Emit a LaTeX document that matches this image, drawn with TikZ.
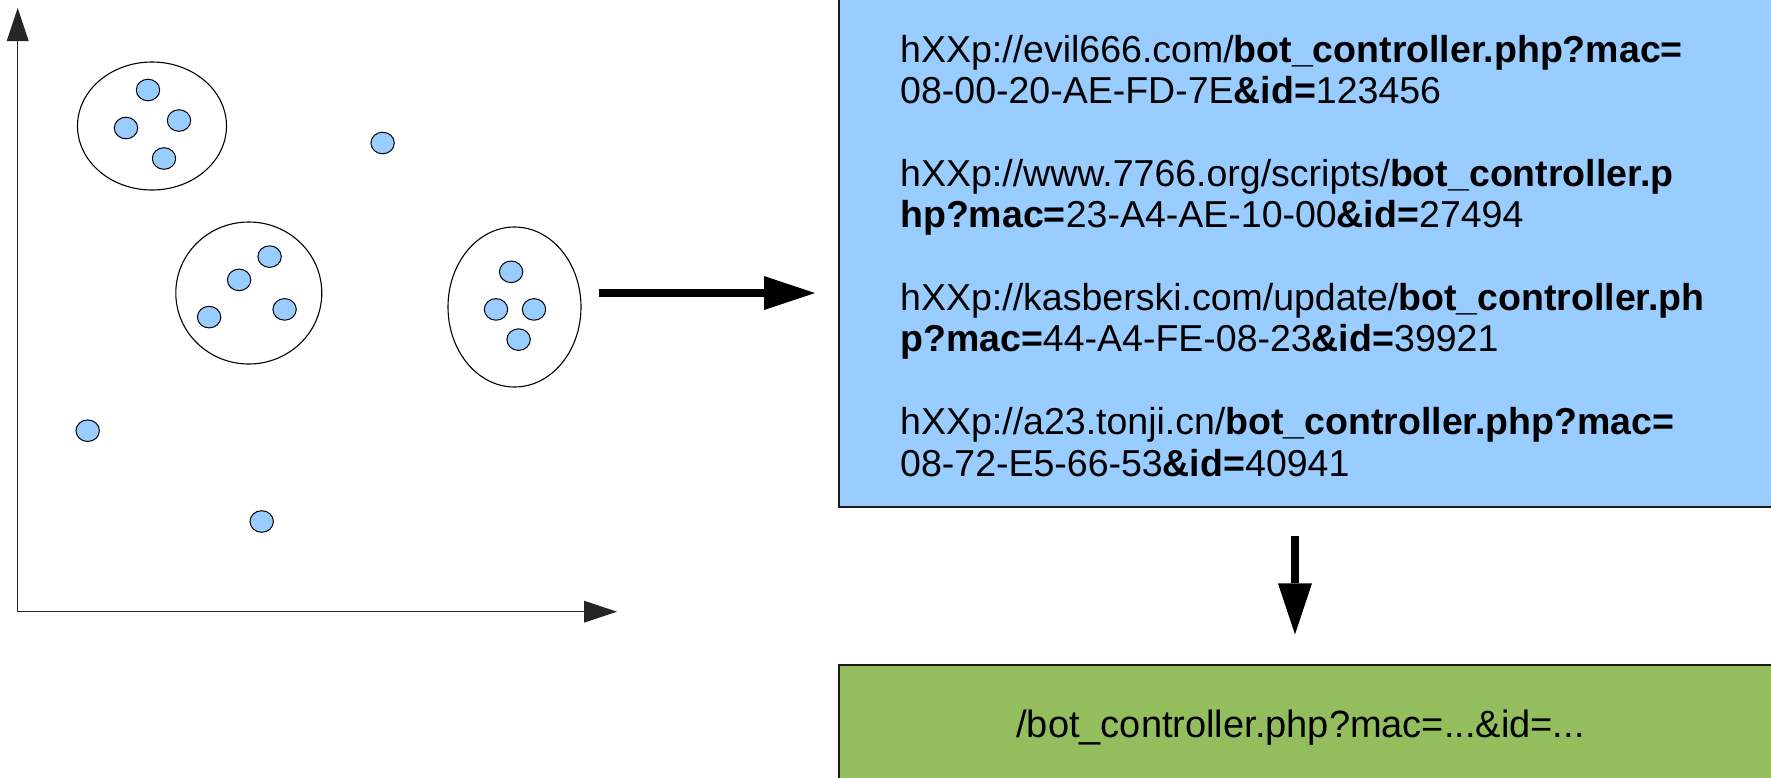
\documentclass[tikz,border=0pt]{standalone}
\usepackage{fontspec}
\setmainfont{Liberation Sans}
\usetikzlibrary{shapes.geometric,arrows.meta}
\definecolor{dotblue}{HTML}{99CCFF}
\definecolor{panelgreen}{HTML}{94BD5E}
\definecolor{edge}{HTML}{1A1A1A}
\begin{document}
\begin{tikzpicture}[x=1pt,y=-1pt,
  blob/.style={ellipse,draw=black,line width=1pt,fill=dotblue,
    minimum width=23.4pt,minimum height=21.6pt,inner sep=0pt},
  cluster/.style={ellipse,draw=black,line width=1.1pt,inner sep=0pt},
  panel/.style={rectangle,draw=edge,line width=1.6pt,inner sep=0pt},
  axisline/.style={draw=black!85,line width=1.4pt,
    {Triangle[length=33pt,width=22pt,line width=0pt]}-{Triangle[length=33pt,width=22pt,line width=0pt]}},
  fatarrow/.style={draw=black,line width=7.5pt,
    -{Triangle[length=51pt,width=34pt,line width=0pt]}},
  urltext/.style={anchor=base west,inner sep=0pt,font=\fontsize{37.5}{41.4}\selectfont},
  pattext/.style={anchor=base,inner sep=0pt,font=\fontsize{38}{41.4}\selectfont}]
\useasboundingbox (0,0) rectangle (1771,777);
\clip (0,0) rectangle (1771,777);

% feature space axes
\coordinate (o) at (17.7,611.7);
\coordinate (ytip) at (17.7,8);
\coordinate (xtip) at (617,611.7);
\draw[axisline] (ytip) -- (o) -- (xtip);

% clusters
\node[cluster,minimum width=149pt,minimum height=128pt] (c1) at (152,126) {};
\node[cluster,minimum width=146pt,minimum height=142pt] (c2) at (248.8,293) {};
\node[cluster,minimum width=133pt,minimum height=160pt] (c3) at (514.5,307) {};

% samples inside the clusters
\node[blob] (p11) at (148,90) {};
\node[blob] (p12) at (126,128) {};
\node[blob] (p13) at (179,120.5) {};
\node[blob] (p14) at (164,158.5) {};
\node[blob] (p21) at (269.6,256.6) {};
\node[blob] (p22) at (239.1,279.9) {};
\node[blob] (p23) at (209.1,317.1) {};
\node[blob] (p24) at (284.6,309.4) {};
\node[blob] (p31) at (511.1,271.8) {};
\node[blob] (p32) at (496,309.4) {};
\node[blob] (p33) at (534,309.4) {};
\node[blob] (p34) at (518.6,339.6) {};
% outliers
\node[blob] (q1) at (382.6,143) {};
\node[blob] (q2) at (87.7,430.7) {};
\node[blob] (q3) at (261.7,521.5) {};

% panels
\node[panel,fill=dotblue,minimum width=960pt,minimum height=540pt,anchor=south west] (urls) at (838,507.5) {};
\node[panel,fill=panelgreen,minimum width=960pt,minimum height=200pt,anchor=north west] (res) at (838,664) {};

% URLs of the cluster
\node[urltext] (u1a) at (900,62)    {hXXp://evil666.com/\textbf{bot\_controller.php?mac=}};
\node[urltext] (u1b) at (900,103.4) {08-00-20-AE-FD-7E\textbf{\&id=}123456};
\node[urltext] (u2a) at (900,186.2) {hXXp://www.7766.org/scripts/\textbf{bot\_controller.p}};
\node[urltext] (u2b) at (900,227.6) {\textbf{hp?mac=}23-A4-AE-10-00\textbf{\&id=}27494};
\node[urltext] (u3a) at (900,310.4) {hXXp://kasberski.com/update/\textbf{bot\_controller.ph}};
\node[urltext] (u3b) at (900,351.8) {\textbf{p?mac=}44-A4-FE-08-23\textbf{\&id=}39921};
\node[urltext] (u4a) at (900,434.6) {hXXp://a23.tonji.cn/\textbf{bot\_controller.php?mac=}};
\node[urltext] (u4b) at (900,476)   {08-72-E5-66-53\textbf{\&id=}40941};

% extracted pattern
\node[pattext] (pat) at (1300.5,737) {/bot\_controller.php?mac=...\&id=...};

% flow arrows
\coordinate (r0) at (599,293);
\coordinate (r1) at (815,293);
\draw[fatarrow] (r0) -- (r1);
\coordinate (d0) at (1295,535.7);
\coordinate (d1) at (1295,634.3);
\draw[fatarrow] (d0) -- (d1);
\end{tikzpicture}
\end{document}
